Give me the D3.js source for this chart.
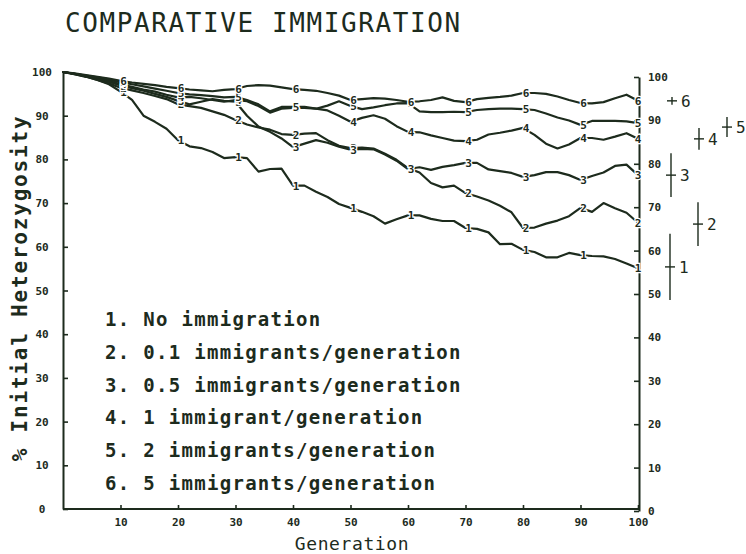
<!DOCTYPE html>
<html><head><meta charset="utf-8">
<script src="https://cdn.jsdelivr.net/npm/d3@7"></script>
<style>
html,body{margin:0;padding:0;background:#fff;}
svg{display:block;}
</style></head>
<body>
<svg id="chart" width="746" height="554"></svg>
<script>
const title = "COMPARATIVE IMMIGRATION";
const xTitle = "Generation";
const yTitle = "% Initial Heterozygosity";
const legendLabels = [
  "1. No immigration",
  "2. 0.1 immigrants/generation",
  "3. 0.5 immigrants/generation",
  "4. 1 immigrant/generation",
  "5. 2 immigrants/generation",
  "6. 5 immigrants/generation"
];
const seriesIds = ["1","2","3","4","5","6"];
const generations = [0,2,4,6,8,10,12,14,16,18,20,22,24,26,28,30,32,34,36,38,40,42,44,46,48,50,52,54,56,58,60,62,64,66,68,70,72,74,76,78,80,82,84,86,88,90,92,94,96,98,100];
const noImmigration = [100,99.6,99.0,98.2,97.2,95.5,93.6,90.0,88.6,87.0,84.4,83.0,82.6,81.7,80.3,80.5,80.3,77.2,77.8,77.9,74.0,74.0,72.6,71.4,69.8,68.9,68.0,67.0,65.3,66.3,67.2,67.2,66.4,65.9,65.9,64.3,64.1,63.3,60.6,60.7,59.3,58.8,57.6,57.6,58.6,58.1,57.9,57.8,57.2,56.2,55.1];
const imm01 = [100,99.5,98.9,98.2,97.4,96.4,95.8,95.2,94.5,93.8,92.6,92.2,91.8,91.0,90.2,89.0,88.0,87.3,86.8,85.8,85.6,85.9,86.0,84.4,83.1,82.6,82.7,82.5,81.3,79.9,78.0,77.0,74.6,73.6,74.0,72.3,71.5,70.6,69.4,67.9,64.3,64.4,65.3,66.0,67.0,68.9,68.0,70.0,68.8,67.8,65.5];
const imm05 = [100,99.5,99.0,98.4,97.8,96.9,96.3,95.7,95.0,94.3,93.4,92.6,93.2,93.8,93.4,93.2,90.0,87.5,86.3,84.8,82.8,83.6,84.4,83.8,82.9,82.2,82.4,82.3,81.1,79.7,77.8,78.2,77.6,78.3,78.7,79.2,79.2,77.7,77.3,76.9,76.0,76.4,77.1,77.1,76.4,75.3,76.2,77.0,78.5,78.8,76.4];
const imm1 = [100,99.6,99.1,98.6,98.0,97.2,96.6,96.0,95.5,94.8,94.2,94.3,94.0,93.6,93.2,93.6,93.3,92.2,90.7,91.6,91.8,91.8,91.6,91.2,90.0,88.6,89.5,90.1,89.3,87.6,86.3,86.2,85.5,84.9,84.3,84.2,84.5,85.7,86.1,86.6,87.2,85.6,83.6,82.5,83.4,84.9,84.9,84.5,85.2,86.0,84.7];
const imm2 = [100,99.6,99.2,98.8,98.3,97.6,97.2,96.7,96.2,95.7,95.2,94.9,94.7,94.5,94.2,94.3,93.6,92.6,91.0,92.0,92.0,92.0,91.6,92.3,93.3,92.2,91.5,91.9,92.4,92.8,92.9,91.0,90.8,90.8,90.9,90.8,91.3,91.5,91.6,91.6,91.5,91.3,90.5,89.6,88.9,87.9,88.8,88.8,88.8,88.7,88.3];
const imm5 = [100,99.7,99.3,98.9,98.5,98.0,97.6,97.3,97.0,96.6,96.3,96.0,95.8,95.6,95.9,96.1,96.8,97.0,96.9,96.5,96.1,95.9,95.7,95.2,94.6,93.6,93.8,94.0,93.9,93.6,93.2,93.3,93.6,94.2,93.4,93.1,93.8,94.1,94.3,94.6,95.2,95.2,95.0,94.4,93.6,92.9,92.8,93.1,94.0,94.8,93.4];
const markerGenerations = [10,20,30,40,50,60,70,80,90,100];
const yTicks = [0,10,20,30,40,50,60,70,80,90,100];
const xTicks = [10,20,30,40,50,60,70,80,90,100];
// final means and spread shown to the right of the plot
const finalMean = [55.4,65.2,76.4,84.7,87.4,93.4];
const finalSpread = [7.6,5.0,5.0,2.5,2.3,0.9];

const seriesValues = [noImmigration, imm01, imm05, imm1, imm2, imm5];
const ink = "#1d2b1d";
const mono = "'DejaVu Sans Mono', 'Liberation Mono', monospace";

const svg = d3.select("#chart");
const x = d3.scaleLinear().domain([0,100]).range([63,638]);
const y = d3.scaleLinear().domain([0,100]).range([509,72]);
const y2 = d3.scaleLinear().domain([0,100]).range([511,77]);

// title
svg.append("text").attr("x",65).attr("y",32)
  .attr("font-family",mono).attr("font-size",26).attr("letter-spacing",1.6)
  .attr("fill",ink).text(title);

// axes
const axLeft = svg.append("g").attr("transform",`translate(${x(0)},0)`)
  .call(d3.axisLeft(y).tickValues(yTicks).tickSizeInner(-5).tickSizeOuter(0).tickPadding(0));
const axBottom = svg.append("g").attr("transform",`translate(0,${y(0)})`)
  .call(d3.axisBottom(x).tickValues(xTicks).tickSizeInner(-4).tickSizeOuter(0).tickPadding(9));
const axRight = svg.append("g").attr("transform",`translate(${x(100)+1},0)`)
  .call(d3.axisRight(y2).tickValues(yTicks).tickSizeInner(-5).tickSizeOuter(0).tickPadding(9));
// bottom axis spans from left axis to right axis
svg.append("line").attr("x1",x(0)).attr("x2",x(100)+1).attr("y1",y(0)).attr("y2",y(0))
  .attr("stroke",ink).attr("stroke-width",2);
[axLeft,axBottom,axRight].forEach(g=>{
  g.selectAll("path.domain").attr("stroke",ink).attr("stroke-width",2);
  g.selectAll(".tick line").attr("stroke",ink).attr("stroke-width",1.6);
  g.selectAll("text").attr("font-family",mono).attr("font-weight","bold")
   .attr("font-size",11).attr("fill",ink);
});
axLeft.selectAll("text").attr("text-anchor","middle").attr("x",-21);
axBottom.select(".domain").attr("d",`M${x(0)},0H${x(100)}`);

// axis titles
svg.append("text").attr("x",352).attr("y",550).attr("text-anchor","middle")
  .attr("font-family",mono).attr("font-size",18).attr("letter-spacing",0.6)
  .attr("fill",ink).text(xTitle);
svg.append("text").attr("transform","translate(27,288) rotate(-90)").attr("text-anchor","middle")
  .attr("font-family",mono).attr("font-size",21).attr("font-weight","bold").attr("letter-spacing",1.8)
  .attr("fill",ink).text(yTitle);

// lines
const line = d3.line().x((d,i)=>x(generations[i])).y(d=>y(d));
svg.append("g").selectAll("path").data(seriesValues).join("path")
  .attr("d",d=>line(d)).attr("fill","none").attr("stroke",ink)
  .attr("stroke-width",2.2).attr("stroke-linejoin","round").attr("stroke-linecap","round");

// markers (series numbers every 10 generations)
const markerData = [];
seriesValues.forEach((vals,s)=>{
  markerGenerations.forEach(g=>{
    const i = generations.indexOf(g);
    markerData.push({g, v: vals[i], id: seriesIds[s]});
  });
});
svg.append("g").selectAll("text").data(markerData).join("text")
  .attr("x",d=>x(d.g)+(d.g===100?0:3)).attr("y",d=>y(d.v)).attr("dy","0.36em")
  .attr("text-anchor","middle").attr("font-family",mono).attr("font-weight","bold")
  .attr("font-size",11).attr("fill",ink)
  .attr("stroke","#fff").attr("stroke-width",2.5).attr("paint-order","stroke")
  .text(d=>d.id);

// legend
const lg = svg.append("g");
legendLabels.forEach((t,i)=>{
  lg.append("text").attr("x",105).attr("y",326+i*32.8)
    .attr("font-family",mono).attr("font-size",19).attr("font-weight","bold")
    .attr("letter-spacing",1.3).attr("fill",ink).text(t);
});

// final mean +/- spread markers to the right
const barOffsets = [32,60,33,61,89,34];
const eg = svg.append("g");
finalMean.forEach((m,i)=>{
  const cx = x(100)+barOffsets[i];
  eg.append("line").attr("x1",cx).attr("x2",cx)
    .attr("y1",y(m+finalSpread[i])).attr("y2",y(m-finalSpread[i]))
    .attr("stroke",ink).attr("stroke-width",1.4);
  eg.append("line").attr("x1",cx-5).attr("x2",cx+5).attr("y1",y(m)).attr("y2",y(m))
    .attr("stroke",ink).attr("stroke-width",1.4);
  eg.append("text").attr("x",cx+9).attr("y",y(m)).attr("dy","0.36em")
    .attr("font-family",mono).attr("font-size",16).attr("fill",ink).text(seriesIds[i]);
});
</script>
</body></html>
